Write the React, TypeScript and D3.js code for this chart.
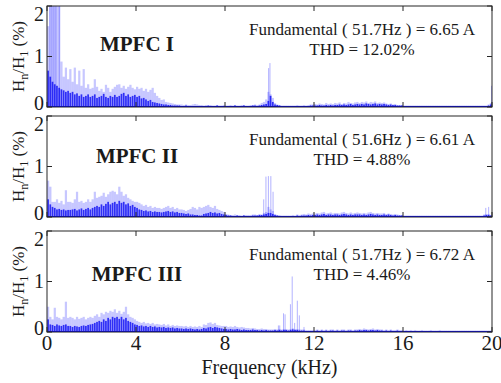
import * as d3 from 'd3';

// harmonic spectra, 0.1 kHz bins from 0 to 20 kHz (values in % of fundamental)
const xTicks = [0, 4, 8, 12, 16, 20];
const yTicks = [0, 1, 2];
const titles = ['MPFC I', 'MPFC II', 'MPFC III'];
const fundLabels = [
  'Fundamental ( 51.7Hz ) = 6.65 A',
  'Fundamental ( 51.6Hz ) = 6.61 A',
  'Fundamental ( 51.7Hz ) = 6.72 A',
];
const thdLabels = ['THD = 12.02%', 'THD = 4.88%', 'THD = 4.46%'];

// dark (dense) part of each spectrum
const floor1 = [
  0.72, 0.6, 0.5, 0.45, 0.42, 0.38, 0.35, 0.33, 0.3, 0.32,
  0.28, 0.3, 0.25, 0.27, 0.22, 0.25, 0.2, 0.22, 0.25, 0.2,
  0.22, 0.25, 0.18, 0.2, 0.22, 0.26, 0.2, 0.18, 0.22, 0.2,
  0.24, 0.2, 0.22, 0.26, 0.28, 0.22, 0.25, 0.2, 0.22, 0.24,
  0.2, 0.22, 0.17, 0.18, 0.15, 0.12, 0.14, 0.1, 0.09, 0.08,
  0.07, 0.06, 0.05, 0.05, 0.04, 0.04, 0.03, 0.03, 0.03, 0.03,
  0.02, 0.02, 0.03, 0.02, 0.02, 0.02, 0.02, 0.02, 0.02, 0.02,
  0.02, 0.02, 0.03, 0.02, 0.02, 0.02, 0.03, 0.02, 0.02, 0.02,
  0.02, 0.02, 0.02, 0.02, 0.03, 0.02, 0.02, 0.02, 0.03, 0.02,
  0.02, 0.02, 0.03, 0.03, 0.02, 0.03, 0.04, 0.05, 0.06, 0.12,
  0.22, 0.1, 0.05, 0.04, 0.03, 0.02, 0.02, 0.02, 0.02, 0.02,
  0.02, 0.02, 0.02, 0.02, 0.02, 0.02, 0.02, 0.02, 0.03, 0.03,
  0.03, 0.03, 0.04, 0.03, 0.03, 0.04, 0.03, 0.04, 0.03, 0.04,
  0.04, 0.05, 0.04, 0.05, 0.04, 0.05, 0.06, 0.04, 0.05, 0.06,
  0.05, 0.06, 0.05, 0.07, 0.06, 0.05, 0.06, 0.07, 0.05, 0.06,
  0.05, 0.06, 0.05, 0.04, 0.05, 0.04, 0.04, 0.03, 0.03, 0.03,
  0.02, 0.02, 0.02, 0.02, 0.02, 0.02, 0.02, 0.02, 0.02, 0.02,
  0.02, 0.02, 0.02, 0.02, 0.02, 0.02, 0.02, 0.02, 0.02, 0.02,
  0.02, 0.02, 0.02, 0.02, 0.02, 0.02, 0.02, 0.02, 0.02, 0.02,
  0.02, 0.02, 0.02, 0.02, 0.02, 0.02, 0.02, 0.02, 0.03, 0.05,
];
const floor2 = [
  0.35, 0.25, 0.2, 0.18, 0.15, 0.16, 0.14, 0.15, 0.13, 0.14,
  0.14, 0.15, 0.16, 0.13, 0.15, 0.17, 0.14, 0.16, 0.18, 0.15,
  0.18, 0.2, 0.22, 0.2, 0.25, 0.22, 0.26, 0.3, 0.25, 0.28,
  0.3, 0.26, 0.32, 0.28, 0.3, 0.25, 0.27, 0.22, 0.24, 0.2,
  0.18, 0.15, 0.14, 0.12, 0.13, 0.11, 0.12, 0.1, 0.11, 0.1,
  0.1, 0.09, 0.1, 0.11, 0.12, 0.1, 0.11, 0.09, 0.1, 0.08,
  0.08, 0.07, 0.06, 0.07, 0.05, 0.05, 0.04, 0.04, 0.03, 0.03,
  0.06, 0.07, 0.08, 0.1, 0.08, 0.09, 0.07, 0.08, 0.06, 0.05,
  0.04, 0.03, 0.03, 0.02, 0.02, 0.03, 0.02, 0.02, 0.03, 0.02,
  0.02, 0.02, 0.03, 0.03, 0.03, 0.04, 0.04, 0.05, 0.06, 0.08,
  0.08, 0.06, 0.04, 0.03, 0.02, 0.02, 0.02, 0.02, 0.02, 0.02,
  0.02, 0.02, 0.03, 0.02, 0.03, 0.03, 0.03, 0.04, 0.03, 0.04,
  0.04, 0.05, 0.04, 0.05, 0.06, 0.04, 0.05, 0.05, 0.04, 0.05,
  0.05, 0.04, 0.05, 0.06, 0.05, 0.04, 0.05, 0.04, 0.05, 0.05,
  0.05, 0.04, 0.05, 0.04, 0.05, 0.06, 0.05, 0.04, 0.05, 0.04,
  0.04, 0.05, 0.04, 0.05, 0.04, 0.03, 0.04, 0.03, 0.03, 0.03,
  0.02, 0.02, 0.02, 0.02, 0.02, 0.02, 0.02, 0.02, 0.02, 0.02,
  0.02, 0.02, 0.02, 0.02, 0.02, 0.02, 0.02, 0.02, 0.02, 0.02,
  0.02, 0.02, 0.02, 0.02, 0.02, 0.02, 0.02, 0.02, 0.02, 0.02,
  0.02, 0.02, 0.02, 0.02, 0.02, 0.02, 0.03, 0.04, 0.04, 0.03,
];
const floor3 = [
  0.25, 0.15, 0.14, 0.12, 0.15, 0.13, 0.12, 0.14, 0.15, 0.12,
  0.12, 0.1, 0.12, 0.11, 0.1, 0.12, 0.13, 0.12, 0.14, 0.15,
  0.16, 0.18, 0.2, 0.22, 0.2, 0.25, 0.22, 0.28, 0.25, 0.3,
  0.28, 0.3, 0.26, 0.3, 0.25, 0.28, 0.22, 0.2, 0.18, 0.15,
  0.14, 0.12, 0.13, 0.11, 0.12, 0.1, 0.12, 0.1, 0.11, 0.09,
  0.1, 0.09, 0.1, 0.08, 0.09, 0.08, 0.09, 0.07, 0.08, 0.07,
  0.07, 0.06, 0.07, 0.06, 0.07, 0.06, 0.05, 0.06, 0.05, 0.06,
  0.08, 0.07, 0.09, 0.1, 0.08, 0.1, 0.09, 0.08, 0.07, 0.06,
  0.06, 0.05, 0.06, 0.05, 0.05, 0.06, 0.05, 0.04, 0.05, 0.04,
  0.04, 0.04, 0.05, 0.04, 0.04, 0.03, 0.04, 0.03, 0.04, 0.03,
  0.03, 0.03, 0.04, 0.03, 0.04, 0.03, 0.04, 0.04, 0.03, 0.04,
  0.05, 0.04, 0.04, 0.03, 0.03, 0.03, 0.02, 0.02, 0.02, 0.02,
  0.02, 0.03, 0.02, 0.03, 0.02, 0.03, 0.02, 0.03, 0.03, 0.02,
  0.03, 0.02, 0.03, 0.03, 0.02, 0.03, 0.03, 0.02, 0.03, 0.03,
  0.04, 0.03, 0.04, 0.04, 0.03, 0.04, 0.04, 0.03, 0.04, 0.03,
  0.03, 0.02, 0.03, 0.02, 0.03, 0.02, 0.02, 0.03, 0.02, 0.02,
  0.02, 0.02, 0.02, 0.02, 0.02, 0.02, 0.02, 0.02, 0.02, 0.02,
  0.02, 0.02, 0.02, 0.02, 0.02, 0.02, 0.02, 0.02, 0.02, 0.02,
  0.02, 0.02, 0.02, 0.02, 0.02, 0.02, 0.02, 0.02, 0.02, 0.02,
  0.02, 0.02, 0.02, 0.02, 0.02, 0.02, 0.02, 0.02, 0.02, 0.02,
];

// light (sparse, tall) part of each spectrum
const light1 = [
  1.6, 2.5, 2.5, 2.5, 2.5, 2.5, 0.9, 0.6, 0.78, 0.55,
  0.75, 0.5, 0.78, 0.45, 0.72, 0.42, 0.75, 0.38, 0.45, 0.36,
  0.38, 0.55, 0.4, 0.32, 0.36, 0.3, 0.44, 0.38, 0.3, 0.36,
  0.4, 0.44, 0.45, 0.38, 0.42, 0.36, 0.4, 0.44, 0.38, 0.35,
  0.4, 0.36, 0.38, 0.32, 0.36, 0.3, 0.34, 0.38, 0.28, 0.22,
  0.18, 0.14, 0.15, 0.1, 0.09, 0.08, 0.07, 0.06, 0.05, 0.05,
  0.05, 0.04, 0.05, 0.04, 0.04, 0.05, 0.06, 0.05, 0.04, 0.04,
  0.03, 0.04, 0.03, 0.04, 0.03, 0.03, 0.04, 0.03, 0.03, 0.04,
  0.03, 0.03, 0.04, 0.03, 0.04, 0.03, 0.03, 0.04, 0.04, 0.03,
  0.03, 0.04, 0.04, 0.05, 0.04, 0.05, 0.08, 0.1, 0.15, 0.3,
  0.25, 0.18, 0.08, 0.05, 0.04, 0.03, 0.03, 0.03, 0.03, 0.03,
  0.03, 0.03, 0.04, 0.03, 0.03, 0.04, 0.03, 0.04, 0.05, 0.05,
  0.06, 0.05, 0.07, 0.06, 0.05, 0.08, 0.06, 0.07, 0.06, 0.08,
  0.07, 0.09, 0.06, 0.08, 0.07, 0.1, 0.08, 0.07, 0.09, 0.1,
  0.08, 0.1, 0.09, 0.11, 0.08, 0.1, 0.09, 0.11, 0.08, 0.09,
  0.08, 0.09, 0.07, 0.06, 0.07, 0.05, 0.06, 0.04, 0.04, 0.04,
  0.03, 0.03, 0.03, 0.03, 0.03, 0.03, 0.03, 0.03, 0.03, 0.03,
  0.03, 0.03, 0.03, 0.03, 0.03, 0.03, 0.03, 0.03, 0.03, 0.03,
  0.03, 0.03, 0.03, 0.03, 0.03, 0.03, 0.03, 0.03, 0.03, 0.03,
  0.03, 0.03, 0.03, 0.03, 0.03, 0.03, 0.03, 0.03, 0.05, 0.08,
];
const light2 = [
  0.72, 0.6, 0.3, 0.3, 0.35, 0.28, 0.32, 0.25, 0.53, 0.3,
  0.3, 0.28, 0.35, 0.5, 0.3, 0.32, 0.28, 0.3, 0.35, 0.3,
  0.35, 0.5, 0.38, 0.4, 0.42, 0.48, 0.4, 0.45, 0.5, 0.52,
  0.5, 0.45, 0.6, 0.5, 0.42, 0.45, 0.38, 0.35, 0.32, 0.3,
  0.3, 0.28, 0.25, 0.22, 0.24, 0.2, 0.22, 0.18, 0.2, 0.18,
  0.18, 0.16, 0.18, 0.2, 0.22, 0.18, 0.2, 0.16, 0.18, 0.15,
  0.15, 0.14, 0.12, 0.14, 0.16, 0.2, 0.18, 0.15, 0.2, 0.18,
  0.2, 0.22, 0.24, 0.2, 0.18, 0.22, 0.16, 0.14, 0.12, 0.1,
  0.06, 0.05, 0.04, 0.04, 0.05, 0.04, 0.04, 0.03, 0.04, 0.04,
  0.04, 0.04, 0.05, 0.05, 0.04, 0.06, 0.05, 0.08, 0.1, 0.2,
  0.15, 0.12, 0.06, 0.04, 0.04, 0.03, 0.03, 0.03, 0.03, 0.03,
  0.04, 0.03, 0.05, 0.04, 0.05, 0.06, 0.05, 0.07, 0.06, 0.07,
  0.07, 0.08, 0.07, 0.09, 0.1, 0.07, 0.08, 0.09, 0.07, 0.08,
  0.08, 0.07, 0.09, 0.1, 0.08, 0.07, 0.09, 0.07, 0.08, 0.09,
  0.08, 0.07, 0.08, 0.07, 0.09, 0.1, 0.08, 0.07, 0.08, 0.07,
  0.07, 0.08, 0.06, 0.07, 0.06, 0.05, 0.06, 0.05, 0.04, 0.04,
  0.03, 0.03, 0.03, 0.03, 0.03, 0.03, 0.03, 0.03, 0.03, 0.03,
  0.03, 0.03, 0.03, 0.03, 0.03, 0.03, 0.03, 0.03, 0.03, 0.03,
  0.03, 0.03, 0.03, 0.03, 0.03, 0.03, 0.03, 0.03, 0.03, 0.03,
  0.03, 0.03, 0.03, 0.03, 0.03, 0.03, 0.05, 0.06, 0.06, 0.04,
];
const light3 = [
  0.5, 0.3, 0.25, 0.48, 0.3, 0.28, 0.25, 0.3, 0.6, 0.28,
  0.3, 0.28, 0.25, 0.3, 0.26, 0.28, 0.3, 0.25, 0.28, 0.3,
  0.28, 0.32, 0.35, 0.3, 0.38, 0.35, 0.4, 0.38, 0.42, 0.4,
  0.45, 0.38, 0.42, 0.36, 0.4, 0.5, 0.35, 0.3, 0.28, 0.25,
  0.22, 0.2, 0.18, 0.2, 0.17, 0.18, 0.16, 0.18, 0.15, 0.16,
  0.15, 0.14, 0.16, 0.13, 0.15, 0.12, 0.14, 0.12, 0.13, 0.12,
  0.12, 0.11, 0.12, 0.1, 0.12, 0.1, 0.11, 0.1, 0.12, 0.1,
  0.15, 0.14, 0.18, 0.19, 0.16, 0.18, 0.14, 0.13, 0.12, 0.12,
  0.12, 0.1, 0.11, 0.1, 0.12, 0.1, 0.09, 0.1, 0.09, 0.08,
  0.08, 0.07, 0.08, 0.07, 0.06, 0.06, 0.07, 0.06, 0.06, 0.05,
  0.05, 0.05, 0.06, 0.05, 0.06, 0.05, 0.06, 0.06, 0.05, 0.06,
  0.07, 0.06, 0.06, 0.05, 0.05, 0.05, 0.04, 0.04, 0.04, 0.04,
  0.04, 0.05, 0.04, 0.05, 0.04, 0.05, 0.04, 0.05, 0.05, 0.04,
  0.05, 0.04, 0.05, 0.05, 0.04, 0.05, 0.05, 0.04, 0.05, 0.05,
  0.06, 0.05, 0.07, 0.06, 0.05, 0.06, 0.07, 0.05, 0.06, 0.05,
  0.05, 0.04, 0.05, 0.04, 0.05, 0.04, 0.04, 0.05, 0.04, 0.04,
  0.03, 0.04, 0.03, 0.04, 0.03, 0.04, 0.03, 0.03, 0.04, 0.03,
  0.03, 0.03, 0.04, 0.03, 0.03, 0.03, 0.04, 0.03, 0.03, 0.03,
  0.03, 0.03, 0.03, 0.03, 0.03, 0.03, 0.03, 0.03, 0.03, 0.03,
  0.03, 0.03, 0.03, 0.03, 0.03, 0.03, 0.03, 0.03, 0.03, 0.03,
];

// isolated spikes: [frequency kHz, magnitude %]
const peaks1: [number, number][] = [
  [0.13, 2.5], [0.22, 2.5], [0.31, 2.5], [0.4, 2.5], [0.55, 2.5],
  [9.96, 0.77], [10.02, 0.87], [19.98, 0.42],
];
const peaks2: [number, number][] = [
  [9.74, 0.35], [9.84, 0.8], [9.95, 0.81], [10.06, 0.81], [10.16, 0.5],
  [19.72, 0.18], [19.85, 0.2],
];
const peaks3: [number, number][] = [
  [10.4, 0.13], [10.46, 0.13], [10.63, 0.37], [10.7, 0.35], [10.94, 0.55],
  [11.02, 1.1], [11.13, 0.18], [11.25, 0.62], [11.34, 0.33], [11.55, 0.1],
];

const floors = [floor1, floor2, floor3];
const lights = [light1, light2, light3];
const peaks = [peaks1, peaks2, peaks3];

const W = 501;
const H = 383;
const left = 47;
const right = 492;
const panelTops = [6, 116, 231];
const panelH = 101;
const titleOffsets = [45, 47, 50];
// MATLAB nudges the y tick labels inside the box
const yLabelShift = [3, 6.5, 15];
const font = "'Liberation Serif', 'Times New Roman', Times, serif";
const axisColor = '#262626';
const textColor = '#1a1a1a';
const BIN = 0.1;

const x = d3.scaleLinear().domain([0, 20]).range([left, right]);

function Panel({ idx }: { idx: number }) {
  const top = panelTops[idx];
  const y = d3.scaleLinear().domain([0, 2]).range([top + panelH, top]);
  const bw = x(BIN) - x(0);
  const clipId = `clip${idx}`;
  const tick = 5;

  return (
    <g>
      <defs>
        <clipPath id={clipId}>
          <rect x={left} y={top} width={right - left} height={panelH} />
        </clipPath>
      </defs>
      <g clipPath={`url(#${clipId})`}>
        {lights[idx].map((v, i) => (
          <rect
            key={`l${i}`}
            x={x(i * BIN)}
            y={y(v)}
            width={bw}
            height={y(0) - y(v)}
            fill="#0000ff"
            fillOpacity={0.22}
          />
        ))}
        {peaks[idx].map(([f, v], i) => (
          <rect
            key={`p${i}`}
            x={x(f) - 0.5}
            y={y(v)}
            width={1}
            height={y(0) - y(v)}
            fill="#0000ff"
            fillOpacity={0.3}
          />
        ))}
        {floors[idx].map((v, i) => (
          <rect
            key={`f${i}`}
            x={x(i * BIN) + 0.2}
            y={y(v)}
            width={bw - 0.5}
            height={y(0) - y(v)}
            fill="#1414f5"
            fillOpacity={0.85}
          />
        ))}
        <line x1={left} x2={right} y1={y(0) - 0.5} y2={y(0) - 0.5} stroke="#0000ff" strokeWidth={1.2} />
      </g>

      {/* box + ticks */}
      <rect x={left} y={top} width={right - left} height={panelH} fill="none" stroke={axisColor} strokeWidth={1} />
      {xTicks.map((t) => (
        <g key={`xt${t}`}>
          <line x1={x(t)} x2={x(t)} y1={y(0)} y2={y(0) - tick} stroke={axisColor} />
          <line x1={x(t)} x2={x(t)} y1={top} y2={top + tick} stroke={axisColor} />
        </g>
      ))}
      {yTicks.map((t, k) => (
        <g key={`yt${t}`}>
          <line x1={left} x2={left + tick} y1={y(t)} y2={y(t)} stroke={axisColor} />
          <line x1={right} x2={right - tick} y1={y(t)} y2={y(t)} stroke={axisColor} />
          <text x={left - 3} y={y(t) + yLabelShift[k]} textAnchor="end" fontFamily={font} fontSize={20} fill={textColor}>
            {t}
          </text>
        </g>
      ))}

      {/* y label */}
      <text
        transform={`translate(24,${top + panelH / 2}) rotate(-90)`}
        textAnchor="middle"
        fontFamily={font}
        fontSize={17}
        fill={textColor}
      >
        H<tspan fontSize={12} dy={4}>n</tspan>
        <tspan dy={-4}>/H</tspan>
        <tspan fontSize={12} dy={4}>1</tspan>
        <tspan dy={-4}> (%)</tspan>
      </text>

      <text x={137} y={top + titleOffsets[idx]} textAnchor="middle" fontFamily={font} fontSize={21} fontWeight="bold" fill={textColor}>
        {titles[idx]}
      </text>
      <text x={362} y={top + 29} textAnchor="middle" fontFamily={font} fontSize={17} fill={textColor}>
        {fundLabels[idx]}
      </text>
      <text x={362} y={top + 49} textAnchor="middle" fontFamily={font} fontSize={17} fill={textColor}>
        {thdLabels[idx]}
      </text>
    </g>
  );
}

export default function App() {
  const bottom = panelTops[2] + panelH;
  return (
    <svg
      width={W}
      height={H}
      style={{ position: 'absolute', left: 0, top: 0, background: '#fff' }}
    >
      {[0, 1, 2].map((i) => (
        <Panel key={i} idx={i} />
      ))}
      {xTicks.map((t) => (
        <text key={`xl${t}`} x={x(t)} y={bottom + 18} textAnchor="middle" fontFamily={font} fontSize={21} fill={textColor}>
          {t}
        </text>
      ))}
      <text x={(left + right) / 2} y={bottom + 42} textAnchor="middle" fontFamily={font} fontSize={20} fill={textColor}>
        Frequency (kHz)
      </text>
    </svg>
  );
}
